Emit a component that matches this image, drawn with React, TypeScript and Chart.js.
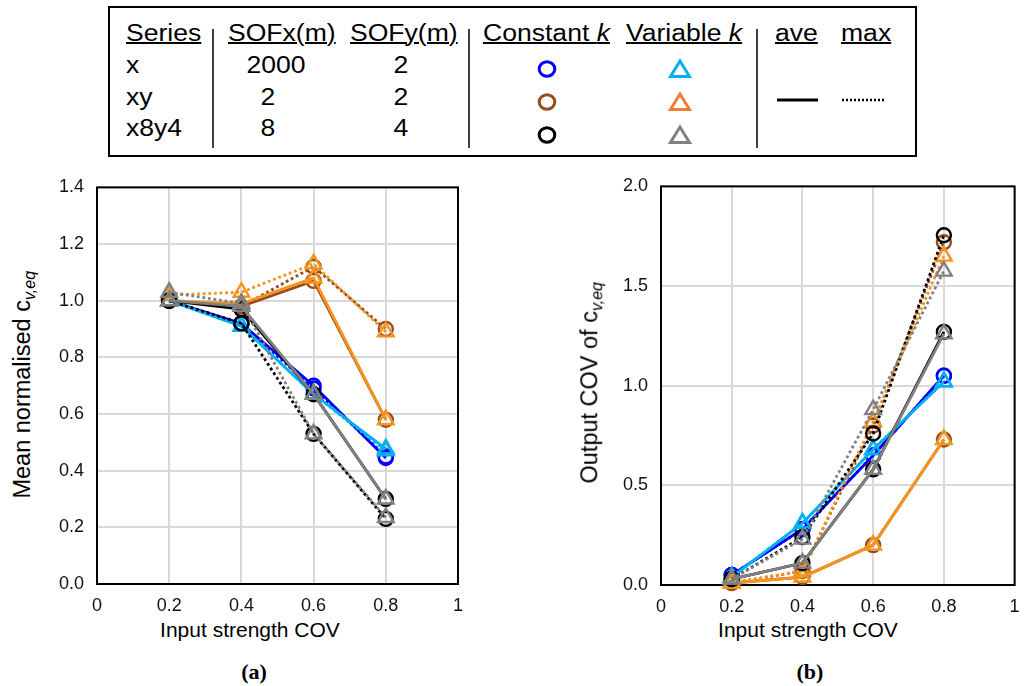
import React, { useEffect, useRef } from 'react';
import { Chart, registerables } from 'chart.js';

Chart.register(...registerables);

// ---------- data ----------
const covLevels = [0.2, 0.4, 0.6, 0.8];
const xTickValues = [0, 0.2, 0.4, 0.6, 0.8, 1];
const yTicksA = [0, 0.2, 0.4, 0.6, 0.8, 1.0, 1.2, 1.4];
const yTicksB = [0, 0.5, 1.0, 1.5, 2.0];

// (a) Mean normalised c_v,eq
const meanXConstAve = [1.0, 0.92, 0.7, 0.445];
const meanXConstMax = [1.0, 0.92, 0.69, 0.45];
const meanXVarAve = [1.0, 0.91, 0.67, 0.477];
const meanXVarMax = [1.0, 0.91, 0.67, 0.47];
const meanXyConstAve = [1.0, 0.98, 1.07, 0.58];
const meanXyConstMax = [1.0, 0.98, 1.12, 0.9];
const meanXyVarAve = [1.0, 0.99, 1.08, 0.58];
const meanXyVarMax = [1.02, 1.03, 1.13, 0.89];
const meanX8y4ConstAve = [1.0, 0.97, 0.67, 0.3];
const meanX8y4ConstMax = [1.0, 0.92, 0.53, 0.23];
const meanX8y4VarAve = [1.0, 0.98, 0.67, 0.3];
const meanX8y4VarMax = [1.03, 0.99, 0.53, 0.235];

// (b) Output COV of c_v,eq
const covXConstAve = [0.05, 0.28, 0.65, 1.05];
const covXConstMax = [0.05, 0.28, 0.65, 1.05];
const covXVarAve = [0.04, 0.31, 0.68, 1.02];
const covXVarMax = [0.04, 0.31, 0.68, 1.02];
const covXyConstAve = [0.01, 0.04, 0.2, 0.73];
const covXyConstMax = [0.01, 0.07, 0.8, 1.72];
const covXyVarAve = [0.01, 0.04, 0.2, 0.73];
const covXyVarMax = [0.01, 0.07, 0.82, 1.65];
const covX8y4ConstAve = [0.03, 0.11, 0.58, 1.27];
const covX8y4ConstMax = [0.03, 0.24, 0.76, 1.755];
const covX8y4VarAve = [0.03, 0.11, 0.58, 1.26];
const covX8y4VarMax = [0.03, 0.23, 0.88, 1.575];

// ---------- styles ----------
const BLUE = '#0000FF';
const LIGHTBLUE = '#00B0F0';
const BROWN = '#984C1C';
const ORANGE = '#F7941D';
const BLACK = '#000000';
const GRAY = '#808080';
const FONT = "'Liberation Sans', Arial, sans-serif";

type Def = { color: string; shape: 'circle' | 'triangle'; dotted: boolean; a: number[]; b: number[] };

// first entry is drawn on top
const seriesDefs: Def[] = [
  { color: GRAY, shape: 'triangle', dotted: false, a: meanX8y4VarAve, b: covX8y4VarAve },
  { color: GRAY, shape: 'triangle', dotted: true, a: meanX8y4VarMax, b: covX8y4VarMax },
  { color: BLACK, shape: 'circle', dotted: false, a: meanX8y4ConstAve, b: covX8y4ConstAve },
  { color: BLACK, shape: 'circle', dotted: true, a: meanX8y4ConstMax, b: covX8y4ConstMax },
  { color: ORANGE, shape: 'triangle', dotted: false, a: meanXyVarAve, b: covXyVarAve },
  { color: ORANGE, shape: 'triangle', dotted: true, a: meanXyVarMax, b: covXyVarMax },
  { color: BROWN, shape: 'circle', dotted: false, a: meanXyConstAve, b: covXyConstAve },
  { color: BROWN, shape: 'circle', dotted: true, a: meanXyConstMax, b: covXyConstMax },
  { color: LIGHTBLUE, shape: 'triangle', dotted: false, a: meanXVarAve, b: covXVarAve },
  { color: LIGHTBLUE, shape: 'triangle', dotted: true, a: meanXVarMax, b: covXVarMax },
  { color: BLUE, shape: 'circle', dotted: false, a: meanXConstAve, b: covXConstAve },
  { color: BLUE, shape: 'circle', dotted: true, a: meanXConstMax, b: covXConstMax },
];

const framePlugin = {
  id: 'plotFrame',
  beforeDatasetsDraw(chart: any) {
    const { ctx, chartArea } = chart;
    ctx.save();
    ctx.strokeStyle = '#000';
    ctx.lineWidth = 2;
    ctx.strokeRect(chartArea.left, chartArea.top, chartArea.right - chartArea.left, chartArea.bottom - chartArea.top);
    ctx.restore();
  },
};

type ChartProps = {
  which: 'a' | 'b';
  left: number;
  top: number;
  width: number;
  height: number;
  yTicks: number[];
  yMax: number;
  padTop: number;
  padRight: number;
  yAxisWidth: number;
  xAxisHeight: number;
};

function LineChart(p: ChartProps) {
  const ref = useRef<HTMLCanvasElement>(null);
  useEffect(() => {
    const datasets = seriesDefs.map((d) => {
      const vals = p.which === 'a' ? d.a : d.b;
      return {
        data: covLevels.map((x, i) => ({ x, y: vals[i] })),
        borderColor: d.color,
        borderWidth: 2.8,
        borderDash: d.dotted ? [2.8, 2.8] : [],
        borderCapStyle: 'butt',
        pointStyle: d.shape,
        pointRadius: d.shape === 'circle' ? 7 : 9,
        pointHoverRadius: d.shape === 'circle' ? 7 : 9,
        pointBorderWidth: 2.4,
        pointBorderColor: d.color,
        pointBackgroundColor: 'rgba(0,0,0,0)',
        tension: 0,
        fill: false,
        clip: false as any,
      };
    });
    const tickFont = { family: FONT, size: 18 };
    const chart = new Chart(ref.current as HTMLCanvasElement, {
      type: 'line',
      data: { datasets: datasets as any },
      options: {
        responsive: false,
        animation: false,
        devicePixelRatio: 1,
        layout: { padding: { top: p.padTop, right: p.padRight, left: 0, bottom: 0 } },
        plugins: { legend: { display: false }, tooltip: { enabled: false } },
        events: [],
        scales: {
          x: {
            type: 'linear',
            min: 0,
            max: 1,
            afterBuildTicks: (s: any) => {
              s.ticks = xTickValues.map((v) => ({ value: v }));
            },
            ticks: {
              font: tickFont,
              color: '#111',
              padding: 11,
              maxRotation: 0,
              callback: (v: any) => String(Math.round(Number(v) * 10) / 10),
            },
            grid: { color: '#D9D9D9', lineWidth: 2, drawTicks: false },
            border: { display: false },
            afterFit: (s: any) => {
              s.height = p.xAxisHeight;
              s.paddingLeft = 0;
              s.paddingRight = 0;
            },
          },
          y: {
            type: 'linear',
            min: 0,
            max: p.yMax,
            afterBuildTicks: (s: any) => {
              s.ticks = p.yTicks.map((v) => ({ value: v }));
            },
            ticks: {
              font: tickFont,
              color: '#111',
              padding: 13,
              callback: (v: any) => Number(v).toFixed(1),
            },
            grid: { color: '#D9D9D9', lineWidth: 2, drawTicks: false },
            border: { display: false },
            afterFit: (s: any) => {
              s.width = p.yAxisWidth;
              s.paddingTop = 0;
              s.paddingBottom = 0;
            },
          },
        },
      } as any,
      plugins: [framePlugin],
    });
    return () => chart.destroy();
  }, []);
  return (
    <canvas
      ref={ref}
      width={p.width}
      height={p.height}
      style={{ position: 'absolute', left: p.left, top: p.top, width: p.width, height: p.height }}
    />
  );
}

// ---------- legend helpers ----------
const LEG_SIZE = 23.5;
const LEG_SCALE = 1.13;
const LEG_ASC = 19.9;

function LText(props: { x: number; base: number; children: React.ReactNode; underline?: boolean; center?: boolean }) {
  const common: React.CSSProperties = {
    position: 'absolute',
    top: props.base - LEG_ASC,
    fontSize: LEG_SIZE,
    lineHeight: LEG_SIZE + 'px',
    fontFamily: FONT,
    whiteSpace: 'nowrap',
    textDecoration: props.underline ? 'underline' : 'none',
    textDecorationThickness: '1.6px',
    color: '#000',
  };
  if (props.center) {
    return (
      <div style={{ ...common, left: props.x - 100, width: 200, textAlign: 'center', transform: `scaleX(${LEG_SCALE})`, transformOrigin: 'center' }}>
        {props.children}
      </div>
    );
  }
  return (
    <div style={{ ...common, left: props.x, transform: `scaleX(${LEG_SCALE})`, transformOrigin: 'left' }}>{props.children}</div>
  );
}

const headers = ['Series', 'SOFx(m)', 'SOFy(m)'];
const headerX = [126, 228, 350];
const seriesNames = ['x', 'xy', 'x8y4'];
const sofX = ['2000', '2', '8'];
const sofXCenters = [276, 268, 268];
const sofY = ['2', '2', '4'];
const rowBase = [74, 106, 137];
const markerRows = [69, 102, 135];
const constColors = [BLUE, BROWN, BLACK];
const varColors = [LIGHTBLUE, '#EE7F33', GRAY];

function Legend() {
  return (
    <>
      <div
        style={{
          position: 'absolute',
          left: 108,
          top: 6,
          width: 809,
          height: 151,
          border: '2px solid #000',
          boxSizing: 'border-box',
        }}
      />
      {headers.map((h, i) => (
        <LText key={h} x={headerX[i]} base={41.7} underline>
          {h}
        </LText>
      ))}
      <LText x={483} base={41.7} underline>
        Constant <i>k</i>
      </LText>
      <LText x={626} base={41.7} underline>
        Variable <i>k</i>
      </LText>
      <LText x={775} base={41.7} underline>
        ave
      </LText>
      <LText x={841} base={41.7} underline>
        max
      </LText>
      {seriesNames.map((s, i) => (
        <LText key={'n' + s} x={126} base={rowBase[i]}>
          {s}
        </LText>
      ))}
      {sofX.map((s, i) => (
        <LText key={'sx' + i} x={sofXCenters[i]} base={rowBase[i]} center>
          {s}
        </LText>
      ))}
      {sofY.map((s, i) => (
        <LText key={'sy' + i} x={401} base={rowBase[i]} center>
          {s}
        </LText>
      ))}
      <svg style={{ position: 'absolute', left: 0, top: 0 }} width={1026} height={170}>
        {[213, 469, 757].map((x) => (
          <line key={x} x1={x} x2={x} y1={29} y2={148} stroke="#000" strokeWidth={1.5} />
        ))}
        {markerRows.map((cy, i) => (
          <ellipse key={'c' + i} cx={547} cy={cy} rx={7.8} ry={7.2} fill="none" stroke={constColors[i]} strokeWidth={3} />
        ))}
        {markerRows.map((cy, i) => (
          <polygon
            key={'t' + i}
            points={`680,${cy - 8} 670.5,${cy + 7.5} 689.5,${cy + 7.5}`}
            fill="none"
            stroke={varColors[i]}
            strokeWidth={3}
          />
        ))}
        <line x1={777} x2={818} y1={100} y2={100} stroke="#000" strokeWidth={2.8} />
        <line x1={842} x2={884} y1={100} y2={100} stroke="#000" strokeWidth={2.4} strokeDasharray="2 2" />
      </svg>
    </>
  );
}

function YTitle(props: { cx: number; cy: number; text: string }) {
  return (
    <div
      style={{
        position: 'absolute',
        left: props.cx - 160,
        top: props.cy - 11.75,
        width: 320,
        height: 23.5,
        fontSize: 23.5,
        lineHeight: '23.5px',
        fontFamily: FONT,
        textAlign: 'center',
        whiteSpace: 'nowrap',
        transform: 'rotate(-90deg)',
        transformOrigin: 'center',
        color: '#000',
      }}
    >
      {props.text}c
      <span style={{ fontSize: 16, fontStyle: 'italic', position: 'relative', top: 5, lineHeight: 0 }}>v,eq</span>
    </div>
  );
}

function XTitle(props: { cx: number; base: number }) {
  return (
    <div
      style={{
        position: 'absolute',
        left: props.cx - 150,
        top: props.base - 17.8,
        width: 300,
        fontSize: 21,
        lineHeight: '21px',
        fontFamily: FONT,
        textAlign: 'center',
        whiteSpace: 'nowrap',
        color: '#000',
      }}
    >
      Input strength COV
    </div>
  );
}

function PanelLabel(props: { cx: number; base: number; text: string }) {
  return (
    <div
      style={{
        position: 'absolute',
        left: props.cx - 50,
        top: props.base - 18.4,
        width: 100,
        fontSize: 22,
        lineHeight: '22px',
        fontFamily: "'Liberation Serif', 'Times New Roman', serif",
        fontWeight: 'bold',
        textAlign: 'center',
        color: '#000',
      }}
    >
      {props.text}
    </div>
  );
}

export default function App() {
  return (
    <div style={{ position: 'absolute', left: 0, top: 0, width: 1026, height: 686, background: '#fff', overflow: 'hidden' }}>
      <Legend />
      <LineChart
        which="a"
        left={40}
        top={176}
        width={440}
        height={440}
        yTicks={yTicksA}
        yMax={1.4}
        padTop={10}
        padRight={22}
        yAxisWidth={57}
        xAxisHeight={32}
      />
      <LineChart
        which="b"
        left={600}
        top={175}
        width={426}
        height={441}
        yTicks={yTicksB}
        yMax={2.0}
        padTop={10}
        padRight={4}
        yAxisWidth={61}
        xAxisHeight={31}
      />
      <YTitle cx={23.3} cy={385} text="Mean normalised " />
      <YTitle cx={589.9} cy={383} text="Output COV of " />
      <XTitle cx={250} base={636.7} />
      <XTitle cx={808} base={636.7} />
      <PanelLabel cx={254} base={679} text="(a)" />
      <PanelLabel cx={810} base={679} text="(b)" />
    </div>
  );
}
